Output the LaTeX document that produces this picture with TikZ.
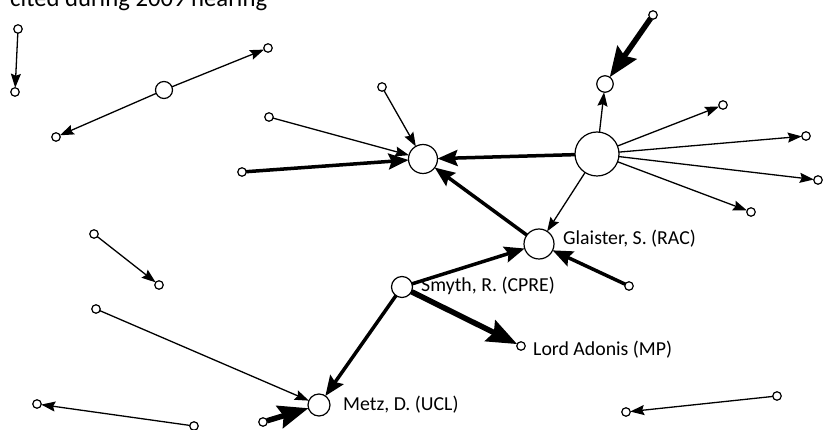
\documentclass[tikz,border=0pt]{standalone}
\usepackage{fontspec}
\setmainfont{Carlito}
\usetikzlibrary{arrows.meta}
\begin{document}
\begin{tikzpicture}[x=1pt,y=-1pt,
  nd/.style={circle,draw=black,fill=white,line width=1.2pt,inner sep=0pt,outer sep=0pt},
  sm/.style={nd,minimum size=8.5pt},
  thinarr/.style={line width=1.3pt,-{Stealth[length=14pt,width=10pt,inset=2pt]}},
  thickarr/.style={line width=3.5pt,-{Stealth[length=20pt,width=16pt,inset=3pt]}},
  heavyarr/.style={line width=5.5pt,-{Stealth[length=30pt,width=23pt,inset=4pt]}},
  lbl/.style={anchor=base west,inner sep=0pt,font=\fontsize{19.8}{24}\selectfont}
]
\useasboundingbox (0,0) rectangle (823,430);
\node[anchor=base west,inner sep=0pt,font=\fontsize{24.7}{30}\selectfont] (title) at (10,6.5) {cited during 2009 hearing};

% nodes
\node[sm] (a1) at (18,29) {};
\node[sm] (a2) at (15,92) {};
\node[nd,minimum size=17pt] (b) at (164,90) {};
\node[sm] (b1) at (268,48) {};
\node[sm] (b2) at (56,137) {};
\node[nd,minimum size=29pt] (c) at (423,159) {};
\node[sm] (c1) at (382,87) {};
\node[sm] (c2) at (269,117) {};
\node[sm] (c3) at (242,172) {};
\node[nd,minimum size=44pt] (d) at (597,154) {};
\node[nd,minimum size=16.5pt] (e) at (605,84) {};
\node[sm] (e1) at (653,15) {};
\node[sm] (d1) at (723,105) {};
\node[sm] (d2) at (806,136) {};
\node[sm] (d3) at (818,180) {};
\node[sm] (d4) at (751,212) {};
\node[nd,minimum size=30pt] (g) at (539,244) {};
\node[sm] (g1) at (629,286) {};
\node[nd,minimum size=21pt] (s) at (402,287) {};
\node[sm] (l) at (521,346) {};
\node[nd,minimum size=22pt] (m) at (319,405) {};
\node[sm] (m1) at (96,309) {};
\node[sm] (m2) at (263,422) {};
\node[sm] (n1) at (37,404) {};
\node[sm] (n2) at (194,426) {};
\node[sm] (o1) at (94,234) {};
\node[sm] (o2) at (159,285) {};
\node[sm] (p1) at (626,412) {};
\node[sm] (p2) at (777,396) {};

% connectors
\draw[thinarr] (a1) -- (a2);
\draw[thinarr] (b) -- (b1);
\draw[thinarr] (b) -- (b2);
\draw[thinarr] (c1) -- (c);
\draw[thinarr] (c2) -- (c);
\draw[thickarr] (c3) -- (c);
\draw[thickarr] (d) -- (c);
\draw[thinarr] (d) -- (e);
\draw[heavyarr] (e1) -- (e);
\draw[thinarr] (d) -- (d1);
\draw[thinarr] (d) -- (d2);
\draw[thinarr] (d) -- (d3);
\draw[thinarr] (d) -- (d4);
\draw[thinarr] (d) -- (g);
\draw[thickarr] (g) -- (c);
\draw[thickarr] (g1) -- (g);
\draw[thickarr] (s) -- (g);
\draw[heavyarr] (s) -- (l);
\draw[thickarr] (s) -- (m);
\draw[thinarr] (m1) -- (m);
\draw[heavyarr] (m2) -- (m);
\draw[thinarr] (n2) -- (n1);
\draw[thinarr] (o1) -- (o2);
\draw[thinarr] (p2) -- (p1);

% labels
\node[lbl] (gl) at (563,244.7) {Glaister, S. (RAC)};
\node[lbl] (sl) at (421,291.7) {Smyth, R. (CPRE)};
\node[lbl] (ll) at (533,356) {Lord Adonis (MP)};
\node[lbl] (ml) at (343,410.7) {Metz, D. (UCL)};
\end{tikzpicture}
\end{document}
